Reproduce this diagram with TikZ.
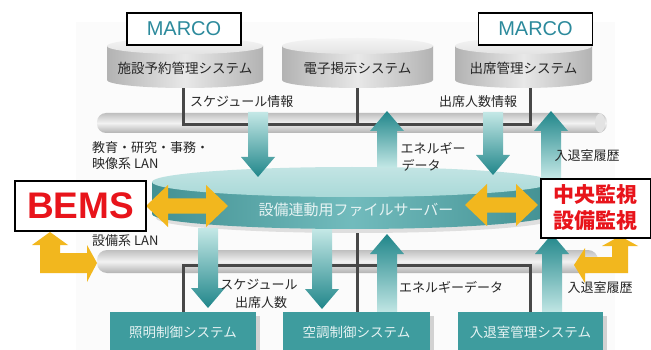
\documentclass[tikz,border=0pt]{standalone}
\usepackage{fontspec}
\setmainfont{Noto Sans CJK JP}
\newfontfamily\latf{Liberation Sans}
\definecolor{tealbox}{HTML}{3E9C9E}
\definecolor{tealdark}{HTML}{20868A}
\definecolor{teallight}{HTML}{C4E8E6}
\definecolor{disctop}{HTML}{A9D9D8}
\definecolor{discside}{HTML}{4EAAAC}
\definecolor{orangeA}{HTML}{F2B71E}
\definecolor{linedark}{HTML}{484848}
\definecolor{txt}{HTML}{262626}
\definecolor{boxtxt}{HTML}{E6F3F3}
\definecolor{marcoc}{HTML}{2C8A9C}
\definecolor{redt}{HTML}{E8141B}
\newcommand\tdown[3]{%
  \shade[top color=teallight, bottom color=tealdark] (#1-10,#2) -- (#1+10,#2) -- (#1+10,#3-20) -- (#1+17,#3-20) -- (#1,#3) -- (#1-17,#3-20) -- (#1-10,#3-20) -- cycle;}
\newcommand\tup[3]{%
  \shade[top color=tealdark, bottom color=teallight] (#1-10,#2) -- (#1+10,#2) -- (#1+10,#3+20) -- (#1+17,#3+20) -- (#1,#3) -- (#1-17,#3+20) -- (#1-10,#3+20) -- cycle;}
\newcommand\odouble[3]{%
  \fill[orangeA] (#1,#3) -- (#1+22,#3-21) -- (#1+22,#3-7.5) -- (#2-22,#3-7.5) -- (#2-22,#3-21) -- (#2,#3) -- (#2-22,#3+21) -- (#2-22,#3+7.5) -- (#1+22,#3+7.5) -- (#1+22,#3+21) -- cycle;}
\newcommand\cyl[4]{% x1, x2, label, name
  \shade[left color=gray!60, right color=gray!60, middle color=gray!18]
    (#1,46) -- (#1,80) arc[start angle=180,end angle=360,x radius={(#2-#1)/2*1pt},y radius=8pt] -- (#2,46) -- cycle;
  \shade[top color=gray!8, bottom color=gray!22] ({(#1+#2)/2},46) ellipse [x radius={(#2-#1)/2*1pt}, y radius=8pt];
  \node[lbl, font=\fontsize{13.5}{15}\selectfont] (#4) at ({(#1+#2)/2},68) {#3};}
\begin{document}
\begin{tikzpicture}[x=1pt,y=-1pt,
  lbl/.style={inner sep=0pt, text=txt, font=\fontsize{13}{15}\selectfont},
  boxlbl/.style={inner sep=0pt, text=boxtxt, font=\fontsize{13.5}{15}\selectfont},
  marco/.style={draw=black, line width=1.5pt, fill=white, minimum width=114pt, minimum height=32pt, inner sep=0pt, text=marcoc, font=\latf\fontsize{20}{22}\selectfont},
  wbox/.style={draw=black, line width=1.6pt, fill=white, inner sep=0pt},
  tbox/.style={fill=tealbox, minimum height=44pt, inner sep=0pt},
  dline/.style={draw=linedark, line width=3pt}]
\useasboundingbox (0,0) rectangle (651,350);
\clip (0,0) rectangle (651,350);
\fill[white] (0,0) rectangle (651,350);
\fill[gray!3] (76,22) rectangle (615,350);
% pipes
\shade[top color=gray!50, bottom color=gray!60, middle color=gray!10, rounded corners=9pt] (97,113) rectangle (607,133);
\fill[gray!22] (600,123) ellipse [x radius=5pt, y radius=9.5pt];
\shade[top color=gray!50, bottom color=gray!60, middle color=gray!10, rounded corners=10pt] (97,250) rectangle (598,273);
% connectors upper
\coordinate (c1) at (183,125); \coordinate (c2) at (530,125);
\draw[dline] (183,80) -- (c1) -- (c2) -- (530,80);
\draw[dline] (357,80) -- (357,125);
% cylinders
\cyl{107}{263}{施設予約管理システム}{sys1}
\cyl{282}{433}{電子掲示システム}{sys2}
\cyl{455}{592}{出席管理システム}{sys3}
\node[marco] (m1) at (184,29) {MARCO};
\node[marco] (m2) at (535.5,29) {MARCO};
% lower connectors
\coordinate (d1) at (183,265); \coordinate (d2) at (530,265);
\draw[dline] (183,315) -- (d1) -- (d2) -- (530,315);
\draw[dline] (357,225) -- (357,315);
% disc
\fill[gray!25] (356,218) ellipse [x radius=200pt, y radius=15pt];
\shade[left color=discside!85!black, right color=discside!85!black, middle color=discside!80!white]
  (152,182) -- (152,214) arc[start angle=180,end angle=360,x radius=200pt,y radius=15pt] -- (552,182) -- cycle;
\shade[top color=disctop!70!white, bottom color=disctop] (352,182) ellipse [x radius=200pt, y radius=15pt];
\node[inner sep=0pt, text=boxtxt, font=\fontsize{15}{17}\selectfont] (srv) at (356,210) {設備連動用ファイルサーバー};
% teal arrows upper
\tdown{258}{112}{177}
\tup{387}{168}{111}
\tdown{493}{112}{175}
\tup{551}{178}{111}
% teal arrows lower
\tdown{208}{228}{308}
\tdown{322}{229}{309}
\tup{387}{314}{234}
\tup{552}{314}{234}
% bottom boxes
\fill[gray!35] (114,316) rectangle (260,355);
\fill[gray!35] (287,316) rectangle (434,355);
\fill[gray!35] (462,316) rectangle (607,355);
\node[tbox, minimum width=146pt, anchor=north west] (b1) at (110,312) {};
\node[tbox, minimum width=147pt, anchor=north west] (b2) at (283,312) {};
\node[tbox, minimum width=145pt, anchor=north west] (b3) at (458,312) {};
\node[boxlbl] (b1t) at (183,332) {照明制御システム};
\node[boxlbl] (b2t) at (356.5,332) {空調制御システム};
\node[boxlbl] (b3t) at (530.5,332) {入退室管理システム};
% orange arrows
\odouble{146}{228}{206}
\odouble{465}{538}{205}
\fill[orangeA] (50,232) -- (68,245) -- (60,245) -- (60,253) -- (87,253) -- (87,245) -- (97,263) -- (87,282) -- (87,273) -- (40,273) -- (40,245) -- (32,245) -- cycle;
\fill[orangeA] (620,236) -- (638,246) -- (628,246) -- (628,273) -- (585,273) -- (585,283) -- (574,265) -- (585,248) -- (585,257) -- (612,257) -- (612,246) -- (602,246) -- cycle;
% white boxes
\node[wbox, minimum width=131pt, minimum height=50pt, text=redt, font=\latf\bfseries\fontsize{37}{40}\selectfont] (bems) at (80.5,206) {BEMS};
\node[wbox, minimum width=110pt, minimum height=59pt, anchor=north west] (cm) at (540,178) {};
\node[inner sep=0pt, text=redt, font=\bfseries\fontsize{21}{26}\selectfont, align=center] (cmt) at (595,208) {中央監視\\設備監視};
% labels
\node[lbl, anchor=west] (l1) at (190,102) {スケジュール情報};
\node[lbl] (l2) at (478,102) {出席人数情報};
\node[lbl, anchor=west] (l3) at (92,148) {教育・研究・事務・};
\node[lbl, anchor=west] (l4) at (92,164) {映像系 LAN};
\node[lbl] (l5) at (433,148) {エネルギー};
\node[lbl] (l6) at (421,165) {データ};
\node[lbl] (l7) at (587,156) {入退室履歴};
\node[lbl, anchor=west] (l8) at (92,241) {設備系 LAN};
\node[lbl] (l9) at (259,285) {スケジュール};
\node[lbl] (l10) at (261,303) {出席人数};
\node[lbl] (l11) at (451,287) {エネルギーデータ};
\node[lbl] (l12) at (600,288) {入退室履歴};
\end{tikzpicture}
\end{document}
